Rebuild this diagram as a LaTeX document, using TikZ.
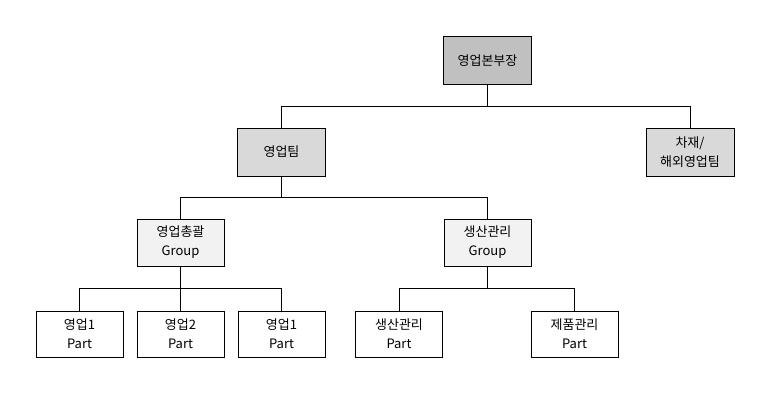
\documentclass[tikz,border=0pt]{standalone}
\usepackage{fontspec}
\setmainfont{Noto Sans CJK KR}
\begin{document}
\begin{tikzpicture}[x=1pt,y=-1pt,
  bx/.style={draw,line width=0.9pt,minimum width=88pt,minimum height=48pt,align=center,inner sep=0pt,font=\fontsize{13}{19}\selectfont},
  ln/.style={line width=0.9pt}]
\useasboundingbox[fill=white] (0,0) rectangle (775,401);
\definecolor{g1}{HTML}{C0C0C0}\definecolor{g2}{HTML}{D9D9D9}\definecolor{g3}{HTML}{F2F2F2}
\node[bx,fill=g1] (top) at (487.5,60.5) {영업본부장};
\node[bx,fill=g2] (team) at (281.5,152) {영업팀};
\node[bx,fill=g2] (ov) at (690,152) {차재/\\해외영업팀};
\node[bx,fill=g3,minimum width=87pt,minimum height=47pt] (g1n) at (180.5,242.5) {영업총괄\\Group};
\node[bx,fill=g3,minimum width=87pt,minimum height=47pt] (g2n) at (487.5,242.5) {생산관리\\Group};
\node[bx,minimum width=87pt,minimum height=46pt] (p1) at (79.5,334) {영업1\\Part};
\node[bx,minimum width=87pt,minimum height=46pt] (p2) at (180.5,334) {영업2\\Part};
\node[bx,minimum width=87pt,minimum height=46pt] (p3) at (281.5,334) {영업1\\Part};
\node[bx,minimum width=87pt,minimum height=46pt] (p4) at (399,334) {생산관리\\Part};
\node[bx,minimum width=87pt,minimum height=46pt] (p5) at (574.5,334) {제품관리\\Part};
\draw[ln] (top.south) -- ++(0,22) coordinate (a);
\draw[ln] (team.north) |- (a) -| (ov.north);
\draw[ln] (team.south) -- ++(0,21) coordinate (b);
\draw[ln] (g1n.north) |- (b) -| (g2n.north);
\draw[ln] (g1n.south) -- ++(0,22) coordinate (c);
\draw[ln] (p1.north) |- (c) -| (p3.north);
\draw[ln] (p2.north) -- (c);
\draw[ln] (g2n.south) -- ++(0,22) coordinate (d);
\draw[ln] (p4.north) |- (d) -| (p5.north);
\end{tikzpicture}
\end{document}
